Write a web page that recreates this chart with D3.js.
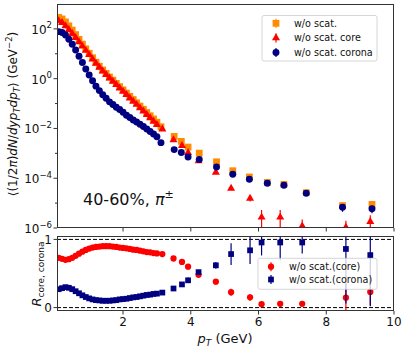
<!DOCTYPE html>
<html>
<head>
<meta charset="utf-8">
<script src="https://cdn.jsdelivr.net/npm/d3@7"></script>
<style>body{margin:0;background:#fff}</style>
</head>
<body>
<script>
// pT of the total / corona spectra (upper panel)
const ptTotal = [0.1, 0.2, 0.3, 0.4, 0.5, 0.6, 0.7, 0.8, 0.9, 1.0, 1.1, 1.2, 1.3, 1.4, 1.5,
  1.6, 1.7, 1.8, 1.9, 2.0, 2.1, 2.2, 2.3, 2.4, 2.5, 2.6, 2.7, 2.8, 2.9, 3.0,
  3.12, 3.51, 3.72, 3.92, 4.25, 4.76, 5.24, 5.73, 6.26, 6.75, 7.41, 8.48, 9.35];
// pT of the core spectrum and of the ratios
const ptCore = [0.1, 0.2, 0.3, 0.4, 0.5, 0.6, 0.7, 0.8, 0.9, 1.0, 1.1, 1.2, 1.3, 1.4, 1.5,
  1.6, 1.7, 1.8, 1.9, 2.0, 2.1, 2.2, 2.3, 2.4, 2.5, 2.6, 2.7, 2.8, 2.9, 3.0,
  3.16, 3.49, 3.74, 3.92, 4.23, 4.74, 5.19, 5.75, 6.09, 6.64, 7.29, 8.58, 9.30];

const yieldTotal = [288, 251, 191, 132, 89.1, 58.9, 38.0, 24.5, 15.8, 10.5, 6.92, 4.57, 3.16, 2.24, 1.62,
  1.17, 0.871, 0.646, 0.479, 0.355, 0.263, 0.195, 0.145, 0.107, 0.0794, 0.0589, 0.0437, 0.0324, 0.0240, 0.0178,
  0.0117, 4.79e-3, 3.02e-3, 1.78e-3, 1.02e-3, 4.57e-4, 2.0e-4, 1.12e-4, 6.76e-5, 5.62e-5, 2.63e-5, 7.94e-6, 8.91e-6];
const yieldCore = [209, 178, 133, 93.3, 64.6, 44.7, 30.2, 20.0, 13.5, 9.12, 6.03, 4.07, 2.82, 2.0, 1.45,
  1.05, 0.776, 0.575, 0.417, 0.309, 0.229, 0.166, 0.123, 0.0912, 0.0661, 0.049, 0.0355, 0.0263, 0.0191, 0.0141,
  9.33e-3, 3.47e-3, 2.04e-3, 1.07e-3, 4.9e-4, 1.7e-4, 3.89e-5, 1.55e-5, 2.69e-6, 2.69e-6, 1.2e-6, 1.07e-6, 1.78e-6];
const yieldCorona = [77.6, 71.6, 57.1, 38.0, 24.0, 14.1, 7.94, 4.42, 2.45, 1.41, 0.832, 0.501, 0.331, 0.224, 0.162,
  0.117, 0.0912, 0.0708, 0.0575, 0.0447, 0.0339, 0.0275, 0.0219, 0.0182, 0.0148, 0.0120, 0.00955, 0.00759, 0.00603, 0.00468,
  2.69e-3, 1.41e-3, 1.07e-3, 7.08e-4, 5.62e-4, 2.82e-4, 1.45e-4, 9.12e-5, 6.31e-5, 5.25e-5, 2.51e-5, 6.76e-6, 5.89e-6];

// errors of the last 13 points (the rest are smaller than the markers)
const errTotalTail = [0, 0, 0, 0, 0, 0, 0, 0, 0, 0, 0, 2.3e-6, 2.2e-6];
const errCoreTail = [0, 0, 0, 0, 0, 2e-5, 6e-6, 4e-6, 2.6e-6, 2.6e-6, 1.0e-6, 0.9e-6, 1.5e-6];
const errCoronaTail = [0, 0, 0, 0, 0, 0, 0, 0, 0, 0, 0, 2.3e-6, 2.0e-6];

const ratioCore = [0.73, 0.715, 0.70, 0.71, 0.73, 0.76, 0.79, 0.82, 0.845, 0.865, 0.88, 0.89, 0.895, 0.9, 0.9,
  0.9, 0.895, 0.89, 0.88, 0.875, 0.87, 0.86, 0.85, 0.845, 0.835, 0.825, 0.815, 0.81, 0.80, 0.795,
  0.785, 0.72, 0.67, 0.60, 0.48, 0.38, 0.225, 0.15, 0.05, 0.055, 0.055, 0.145, 0.23];
const ratioCorona = [0.27, 0.285, 0.30, 0.29, 0.27, 0.24, 0.21, 0.18, 0.155, 0.135, 0.12, 0.11, 0.105, 0.10, 0.10,
  0.10, 0.105, 0.11, 0.12, 0.125, 0.13, 0.14, 0.15, 0.155, 0.165, 0.175, 0.185, 0.19, 0.20, 0.205,
  0.22, 0.28, 0.34, 0.40, 0.52, 0.62, 0.785, 0.84, 0.955, 0.955, 0.955, 0.86, 0.77];
const errRatioCoreTail = [0.01, 0.015, 0.02, 0.04, 0.03, 0.04, 0.05, 0.05, 0.01, 0.01, 0.01, 0.2, 0.2];
const errRatioCoronaTail = [0.01, 0.015, 0.02, 0.04, 0.03, 0.05, 0.16, 0.2, 0.19, 0.26, 0.16, 0.8, 0.75];

const xTicks = [2, 4, 6, 8, 10];
const logTicks = [-6, -4, -2, 0, 2];
const ratioTicks = [0, 1];

const upperLegend = ["w/o scat.", "w/o scat. core", "w/o scat. corona"];
const lowerLegend = ["w/o scat.(core)", "w/o scat.(corona)"];

const colorTotal = "#ff8c00";
const colorCore = "#ff0000";
const colorCorona = "#000080";
const axisColor = "#333";
const font = "DejaVu Sans, sans-serif";

const left = 57, right = 394;
const upper = { top: 4, bottom: 228 };
const lower = { top: 236, bottom: 311 };
const tailStart = 30;

const svg = d3
  .select("body")
  .append("svg")
  .attr("width", 407)
  .attr("height", 349)
  .style("font-family", font);

const x = d3.scaleLinear().domain([0.05, 10]).range([left, right]);
const yUp = d3.scaleLog().domain([1e-6, 1e3]).range([upper.bottom, upper.top]);
const yLow = d3.scaleLinear().domain([-0.05, 1.05]).range([lower.bottom, lower.top]);

const defs = svg.append("defs");
defs.append("clipPath").attr("id", "clipUp").append("rect")
  .attr("x", left).attr("y", upper.top).attr("width", right - left).attr("height", upper.bottom - upper.top);
defs.append("clipPath").attr("id", "clipLow").append("rect")
  .attr("x", left).attr("y", lower.top).attr("width", right - left).attr("height", lower.bottom - lower.top);

function tailErr(arr, i) {
  return i >= tailStart ? arr[i - tailStart] : 0;
}

function series(pts, vals, errTail) {
  return pts.map((p, i) => ({ x: p, y: vals[i], e: tailErr(errTail, i) }));
}

function drawSeries(g, data, yScale, shape, size, color, floor) {
  g.selectAll(null)
    .data(data.filter((d) => d.e > 0))
    .enter()
    .append("line")
    .attr("x1", (d) => x(d.x))
    .attr("x2", (d) => x(d.x))
    .attr("y1", (d) => yScale(Math.max(d.y - d.e, floor)))
    .attr("y2", (d) => yScale(d.y + d.e))
    .attr("stroke", color)
    .attr("stroke-width", 1.2);
  g.selectAll(null)
    .data(data)
    .enter()
    .append("path")
    .attr("d", d3.symbol().type(shape).size(size))
    .attr("transform", (d) => `translate(${x(d.x)},${yScale(d.y)})`)
    .attr("fill", color);
}

// ---------- upper panel ----------
const up = svg.append("g").attr("clip-path", "url(#clipUp)");
drawSeries(up, series(ptTotal, yieldTotal, errTotalTail), yUp, d3.symbolSquare, 46, colorTotal, 1e-8);
drawSeries(up, series(ptCore, yieldCore, errCoreTail), yUp, d3.symbolTriangle, 28, colorCore, 1e-8);
drawSeries(up, series(ptTotal, yieldCorona, errCoronaTail), yUp, d3.symbolCircle, 38, colorCorona, 1e-8);

// ---------- lower panel ----------
const low = svg.append("g").attr("clip-path", "url(#clipLow)");
[0, 1].forEach((v) => {
  low.append("line")
    .attr("x1", left).attr("x2", right)
    .attr("y1", yLow(v)).attr("y2", yLow(v))
    .attr("stroke", "#000").attr("stroke-width", 1)
    .attr("stroke-dasharray", "4,2");
});
drawSeries(low, series(ptCore, ratioCore, errRatioCoreTail), yLow, d3.symbolCircle, 31, colorCore, -1);
drawSeries(low, series(ptCore, ratioCorona, errRatioCoronaTail), yLow, d3.symbolSquare, 33, colorCorona, -1);

// ---------- frames and ticks ----------
[upper, lower].forEach((p) => {
  svg.append("rect")
    .attr("x", left + 0.5).attr("y", p.top + 0.5)
    .attr("width", right - left - 1).attr("height", p.bottom - p.top - 1)
    .attr("fill", "none").attr("stroke", axisColor).attr("stroke-width", 1);
  xTicks.forEach((t) => {
    svg.append("line")
      .attr("x1", x(t)).attr("x2", x(t))
      .attr("y1", p.bottom).attr("y2", p.bottom + 3.5)
      .attr("stroke", axisColor);
  });
});

xTicks.forEach((t) => {
  svg.append("text")
    .attr("x", x(t)).attr("y", 326)
    .attr("text-anchor", "middle")
    .attr("font-size", 12)
    .attr("fill", "#111")
    .text(t);
});

logTicks.forEach((k) => {
  const ty = yUp(Math.pow(10, k));
  svg.append("line")
    .attr("x1", left - 3.5).attr("x2", left)
    .attr("y1", ty).attr("y2", ty)
    .attr("stroke", axisColor);
  const label = svg.append("text")
    .attr("x", 52).attr("y", ty + 5)
    .attr("text-anchor", "end")
    .attr("font-size", 12)
    .attr("fill", "#111");
  label.append("tspan").text("10");
  label.append("tspan").attr("dy", -5.5).attr("font-size", 8.5)
    .text(k < 0 ? "\u2212" + (-k) : String(k));
});
[-5, -3, -1, 1].forEach((k) => {
  const ty = yUp(Math.pow(10, k));
  svg.append("line")
    .attr("x1", left - 2).attr("x2", left)
    .attr("y1", ty).attr("y2", ty)
    .attr("stroke", axisColor);
});

ratioTicks.forEach((t) => {
  svg.append("line")
    .attr("x1", left - 3.5).attr("x2", left)
    .attr("y1", yLow(t)).attr("y2", yLow(t))
    .attr("stroke", axisColor);
  svg.append("text")
    .attr("x", 52).attr("y", yLow(t) + 4.3)
    .attr("text-anchor", "end")
    .attr("font-size", 12)
    .attr("fill", "#111")
    .text(t);
});

// ---------- axis titles ----------
const xTitle = svg.append("text")
  .attr("x", 225).attr("y", 343)
  .attr("text-anchor", "middle")
  .attr("font-size", 13)
  .attr("fill", "#111");
xTitle.append("tspan").attr("font-style", "italic").text("p");
xTitle.append("tspan").attr("font-style", "italic").attr("font-size", 9).attr("dy", 3).text("T");
xTitle.append("tspan").attr("dy", -3).text(" (GeV)");

const yTitle = svg.append("text")
  .attr("transform", "translate(17,114) rotate(-90)")
  .attr("text-anchor", "middle")
  .attr("font-size", 12)
  .attr("fill", "#111");
yTitle.append("tspan").text("\u27E8(1/2");
yTitle.append("tspan").attr("font-style", "italic").text("\u03C0");
yTitle.append("tspan").text(")");
yTitle.append("tspan").attr("font-style", "italic").text("dN");
yTitle.append("tspan").text("/");
yTitle.append("tspan").attr("font-style", "italic").text("dyp");
yTitle.append("tspan").attr("font-style", "italic").attr("font-size", 8.5).attr("dy", 3).text("T");
yTitle.append("tspan").attr("font-style", "italic").attr("dy", -3).text("dp");
yTitle.append("tspan").attr("font-style", "italic").attr("font-size", 8.5).attr("dy", 3).text("T");
yTitle.append("tspan").attr("dy", -3).text("\u27E9 (GeV");
yTitle.append("tspan").attr("font-size", 8.5).attr("dy", -5).text("\u22122");
yTitle.append("tspan").attr("dy", 5).text(")");

const rTitle = svg.append("text")
  .attr("transform", "translate(41,274) rotate(-90)")
  .attr("text-anchor", "middle")
  .attr("font-size", 13)
  .attr("fill", "#111");
rTitle.append("tspan").attr("font-style", "italic").text("R");
rTitle.append("tspan").attr("font-size", 9).attr("dy", 3).text("core, corona");

const note = svg.append("text")
  .attr("x", 83).attr("y", 205)
  .attr("font-size", 16)
  .attr("fill", "#111");
note.append("tspan").text("40-60%, ");
note.append("tspan").attr("font-style", "italic").text("\u03C0");
note.append("tspan").attr("font-size", 11).attr("dy", -7).text("\u00B1");

// ---------- legends ----------
function legendMarker(g, cx, cy, shape, size, color) {
  g.append("line")
    .attr("x1", cx).attr("x2", cx)
    .attr("y1", cy - 4.5).attr("y2", cy + 4.5)
    .attr("stroke", color).attr("stroke-width", 1.2);
  g.append("path")
    .attr("d", d3.symbol().type(shape).size(size))
    .attr("transform", `translate(${cx},${cy})`)
    .attr("fill", color);
}

const legUp = svg.append("g");
legUp.append("rect")
  .attr("x", 262).attr("y", 15.5).attr("width", 115).attr("height", 45.5).attr("rx", 2)
  .attr("fill", "#fff").attr("fill-opacity", 0.8)
  .attr("stroke", "#ccc").attr("stroke-width", 0.8);
const upShapes = [
  [d3.symbolSquare, 46, colorTotal],
  [d3.symbolTriangle, 28, colorCore],
  [d3.symbolCircle, 38, colorCorona],
];
upperLegend.forEach((name, i) => {
  const cy = 23.3 + i * 14.6;
  legendMarker(legUp, 276, cy, ...upShapes[i]);
  legUp.append("text")
    .attr("x", 294).attr("y", cy + 3.5)
    .attr("font-size", 9.6).attr("fill", "#111")
    .text(name);
});

const legLow = svg.append("g");
legLow.append("rect")
  .attr("x", 258).attr("y", 258.3).attr("width", 119).attr("height", 31).attr("rx", 2)
  .attr("fill", "#fff").attr("fill-opacity", 0.8)
  .attr("stroke", "#ccc").attr("stroke-width", 0.8);
const lowShapes = [
  [d3.symbolCircle, 31, colorCore],
  [d3.symbolSquare, 33, colorCorona],
];
lowerLegend.forEach((name, i) => {
  const cy = 266.7 + i * 12.8;
  legendMarker(legLow, 271, cy, ...lowShapes[i]);
  legLow.append("text")
    .attr("x", 289).attr("y", cy + 3.5)
    .attr("font-size", 9.6).attr("fill", "#111")
    .text(name);
});
</script>
</body>
</html>
